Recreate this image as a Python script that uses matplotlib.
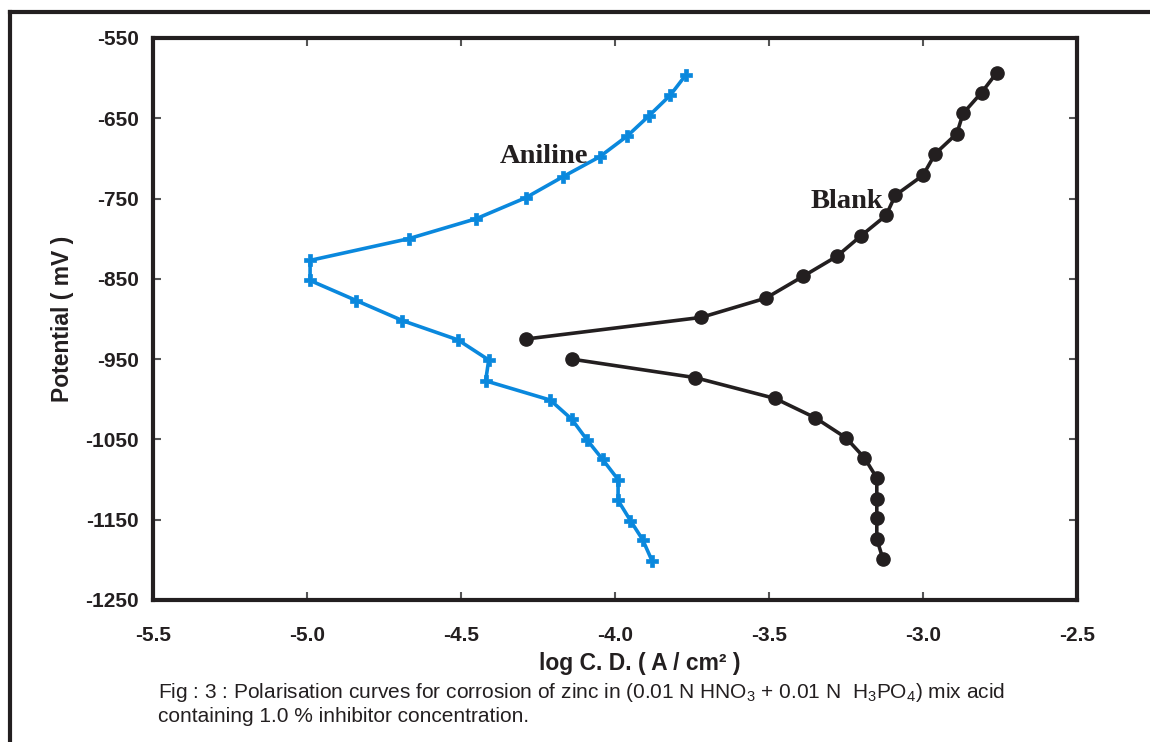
import matplotlib
matplotlib.use("Agg")
import matplotlib.pyplot as plt
from matplotlib.lines import Line2D

plt.rcParams['font.family'] = ['Liberation Sans', 'DejaVu Sans']

# Aniline (1.0 % inhibitor)
aniline_logcd = [-3.77, -3.82, -3.89, -3.96, -4.05, -4.17, -4.29, -4.45, -4.67, -4.99,
                 -4.99, -4.84, -4.69, -4.51, -4.41, -4.42, -4.21, -4.14, -4.09, -4.04,
                 -3.99, -3.99, -3.95, -3.91, -3.88]
aniline_mv = [-596, -621, -647, -672, -698, -723, -749, -775, -800, -827,
              -852, -877, -902, -926, -951, -977, -1001, -1025, -1051, -1075,
              -1100, -1126, -1151, -1175, -1201]

# Blank
blank_logcd = [-2.76, -2.81, -2.87, -2.89, -2.96, -3.00, -3.09, -3.12, -3.20, -3.28,
               -3.39, -3.51, -3.72, -4.29,
               -4.14, -3.74, -3.48, -3.35, -3.25, -3.19, -3.15, -3.15, -3.15, -3.15, -3.13]
blank_mv = [-593, -618, -644, -669, -694, -721, -746, -771, -796, -822,
            -847, -874, -898, -925,
            -950, -973, -999, -1023, -1048, -1073, -1098, -1124, -1148, -1174, -1199]
n_blank_top = 14

xticks = [-5.5, -5.0, -4.5, -4.0, -3.5, -3.0, -2.5]
yticks = [-550, -650, -750, -850, -950, -1050, -1150, -1250]

blue = '#0a88dd'
dark = '#231f20'

fig = plt.figure(figsize=(11.5, 7.42), dpi=100)
ax = fig.add_axes([153/1150, 142/742, 924/1150, 562/742])

ax.plot(aniline_logcd, aniline_mv, color=blue, lw=2.6, marker='P', ms=8.5,
        mec=blue, mfc=blue, mew=0.5)
ax.plot(blank_logcd[:n_blank_top], blank_mv[:n_blank_top], color=dark, lw=2.6,
        marker='o', ms=9.5)
ax.plot(blank_logcd[n_blank_top:], blank_mv[n_blank_top:], color=dark, lw=2.6,
        marker='o', ms=9.5)

ax.text(-4.088, -706, 'Aniline', family='Liberation Serif', fontweight='bold',
        fontsize=20.5, color=dark, ha='right', va='baseline')
ax.text(-3.130, -762, 'Blank', family='Liberation Serif', fontweight='bold',
        fontsize=20.5, color=dark, ha='right', va='baseline')

ax.set_xlim(-5.5, -2.5)
ax.set_ylim(-1250, -550)
ax.set_xticks(xticks)
ax.set_xticklabels(['%.1f' % v for v in xticks])
ax.set_yticks(yticks)
ax.set_yticklabels([str(v) for v in yticks])
ax.tick_params(direction='in', length=6, width=1.5, color='#555555',
               top=True, right=True, labelsize=15, pad=10)
ax.tick_params(axis='x', pad=19)
for lab in ax.get_xticklabels() + ax.get_yticklabels():
    lab.set_fontweight('bold')
    lab.set_color(dark)
for sp in ax.spines.values():
    sp.set_linewidth(3)
    sp.set_color(dark)

ax.set_xlabel('log C. D. ( A / cm² )', fontsize=16.5, fontweight='bold', color=dark)
ax.set_ylabel('Potential ( mV )', fontsize=16.5, fontweight='bold', color=dark)
ax.xaxis.set_label_coords((640 - 153) / 924, -(652 - 600) / 562)
ax.yaxis.set_label_coords(-(153 - 74) / 924, 0.5)

# outer frame of the figure panel
fig.add_artist(Line2D([10/1150, 10/1150], [0, 1 - 12/742], transform=fig.transFigure,
                      color=dark, lw=3))
fig.add_artist(Line2D([10/1150, 1], [1 - 12/742, 1 - 12/742], transform=fig.transFigure,
                      color=dark, lw=3))

fig.text(158/1150, 1 - 692/742,
         r'Fig : 3 : Polarisation curves for corrosion of zinc in (0.01 N HNO$_\mathregular{3}$'
         r' + 0.01 N  H$_\mathregular{3}$PO$_\mathregular{4}$) mix acid',
         fontsize=15, color=dark, va='center')
fig.text(158/1150, 1 - 717/742, 'containing 1.0 % inhibitor concentration.',
         fontsize=15, color=dark, va='center')

fig.savefig('out.png', dpi=100)
